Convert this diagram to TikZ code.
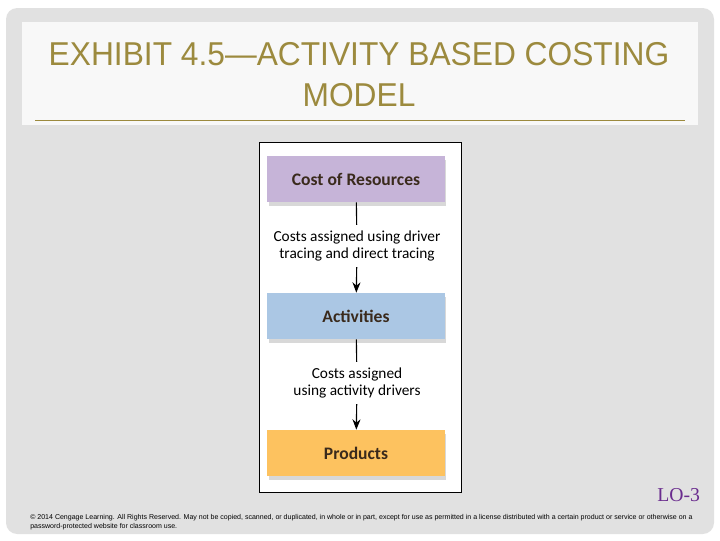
\documentclass[tikz,border=0pt]{standalone}
\usepackage{fontspec}
\setmainfont{Liberation Sans}
\newfontfamily\titlefont[FakeStretch=0.96]{Liberation Sans}
\newfontfamily\boxfont{Carlito}
\newfontfamily\lofont{Liberation Serif}
\usetikzlibrary{positioning,shadows,arrows.meta}
\definecolor{slidegrey}{HTML}{E1E1E1}
\definecolor{panelwhite}{HTML}{F8F8F8}
\definecolor{titlegold}{HTML}{9C8A3E}
\definecolor{respurple}{HTML}{C6B4D8}
\definecolor{actblue}{HTML}{ABC7E4}
\definecolor{prodorange}{HTML}{FDC25F}
\definecolor{boxtext}{HTML}{3A2A1C}
\definecolor{lopurple}{HTML}{6A2C8E}
\tikzset{
  stagebox/.style={minimum width=4.425cm, minimum height=1.15cm, inner sep=0pt,
    font=\boxfont\fontsize{12.5}{14}\selectfont\bfseries, text=boxtext,
    drop shadow={shadow xshift=0.4mm, shadow yshift=-1mm, opacity=0.3}},
  costlabel/.style={align=center, inner sep=4pt,
    font=\boxfont\fontsize{10.9}{12.3}\selectfont},
  stageline/.style={line width=0.8pt},
}
\begin{document}
\begin{tikzpicture}[x=0.025cm,y=-0.025cm]
    \useasboundingbox (0,0) rectangle (720,540);
    \fill[white] (0,0) rectangle (720,540);
    \fill[slidegrey,rounded corners=8] (6,8) rectangle (714,534);
    \fill[panelwhite] (22,22) rectangle (698,125);
    \draw[titlegold,line width=0.4pt] (35,120) -- (685,120);
    \node[titlegold,align=center,font=\titlefont\fontsize{23.5}{29}\selectfont] (title) at (359,75)
      {EXHIBIT 4.5\textemdash ACTIVITY BASED COSTING\\MODEL};
    % diagram frame
    \draw[fill=white,line width=0.6pt] (259,142) rectangle (461,492);
    \node[stagebox,fill=respurple] (resources) at (356,179) {Cost of Resources};
    \node[stagebox,fill=actblue] (activities) at (356,316) {Activities};
    \node[stagebox,fill=prodorange] (products) at (356,453) {Products};
    \node[costlabel] (drivertracing) at (357,246) {Costs assigned using driver\\tracing and direct tracing};
    \node[costlabel] (activitydrivers) at (357,383) {Costs assigned\\using activity drivers};
    \draw[stageline] (resources) -- (drivertracing);
    \draw[stageline,-{Stealth[length=2.6mm,width=2mm]}] (drivertracing) -- (activities);
    \draw[stageline] (activities) -- (activitydrivers);
    \draw[stageline,-{Stealth[length=2.6mm,width=2mm]}] (activitydrivers) -- (products);
    \node[lopurple,font=\lofont\fontsize{14}{16}\selectfont,anchor=east] (lo) at (705,495) {LO-3};
    \node[anchor=north west,align=left,inner sep=0pt,
      font=\fontsize{5}{6.4}\selectfont] (copyright) at (30,514)
      {\textcopyright{} 2014 Cengage Learning. All Rights Reserved. May not be copied, scanned, or duplicated, in whole or in part, except for use as permitted in a license distributed with a certain product or service or otherwise on a\\password-protected website for classroom use.};
  \end{tikzpicture}
\end{document}
